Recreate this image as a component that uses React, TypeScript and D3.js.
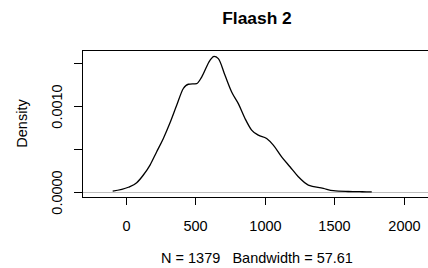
import * as d3 from "d3";

const densityX = [
  -96, 17, 77, 125, 173, 221, 269, 317, 365, 413, 449, 509, 545, 605, 634,
  665, 713, 761, 809, 857, 905, 953, 1013, 1061, 1121, 1181, 1241, 1313,
  1421, 1493, 1600, 1700, 1770,
];
const densityY = [
  0.00001, 0.000055, 0.000108, 0.000198, 0.000314, 0.000469, 0.000624,
  0.000806, 0.00101, 0.001206, 0.001256, 0.001264, 0.00134, 0.001535,
  0.001581, 0.001555, 0.00136, 0.001166, 0.00103, 0.000857, 0.000721,
  0.000663, 0.000624, 0.000547, 0.00041, 0.000294, 0.000178, 0.000081,
  0.000043, 0.000015, 0.000006, 0.000003, 0.000002,
];
const xTicks = [0, 500, 1000, 1500, 2000];
const yTicks = [0, 0.0005, 0.001, 0.0015];
const yTickLabels = ["0.0000", "", "0.0010", ""];

const title = "Flaash 2";
const subLabel = "N = 1379   Bandwidth = 57.61";
const yLabel = "Density";

export default function App() {
  const width = 428;
  const height = 268;
  const plot = { left: 82, top: 50, right: 432, bottom: 197 };
  const font = "'Liberation Sans', Arial, sans-serif";

  const x = d3.scaleLinear().domain([-317, 2204]).range([plot.left, plot.right]);
  const y = d3
    .scaleLinear()
    .domain([-0.0000583, 0.001655])
    .range([plot.bottom, plot.top]);

  const points = densityX.map((d, i) => [d, densityY[i]] as [number, number]);
  const line = d3
    .line<[number, number]>()
    .x((d) => x(d[0]))
    .y((d) => y(d[1]))
    .curve(d3.curveMonotoneX);

  const midX = (plot.left + plot.right) / 2;
  const midY = (plot.top + plot.bottom) / 2;

  return (
    <svg
      width={width}
      height={height}
      style={{ position: "absolute", left: 0, top: 0, background: "#fff" }}
      fontFamily={font}
    >
      <rect width={width} height={height} fill="#fff" />

      {/* zero line */}
      <line
        x1={plot.left}
        x2={plot.right}
        y1={Math.round(y(0)) + 0.5}
        y2={Math.round(y(0)) + 0.5}
        stroke="#bebebe"
        strokeWidth={1}
      />

      <path d={line(points) ?? ""} fill="none" stroke="#000" strokeWidth={1.3} />

      {/* box */}
      <rect
        x={plot.left + 0.5}
        y={plot.top + 0.5}
        width={plot.right - plot.left}
        height={plot.bottom - plot.top}
        fill="none"
        stroke="#000"
        strokeWidth={1}
      />

      {/* x axis */}
      {xTicks.map((t) => {
        const px = Math.round(x(t)) + 0.5;
        return (
          <g key={t}>
            <line x1={px} x2={px} y1={plot.bottom} y2={plot.bottom + 8} stroke="#000" />
            <text x={px} y={231} textAnchor="middle" fontSize={14.5}>
              {t}
            </text>
          </g>
        );
      })}

      {/* y axis */}
      {yTicks.map((t, i) => {
        const py = Math.round(y(t)) + 0.5;
        return (
          <g key={t}>
            <line x1={plot.left - 8} x2={plot.left} y1={py} y2={py} stroke="#000" />
            {yTickLabels[i] && (
              <text
                transform={`translate(62,${py}) rotate(-90)`}
                textAnchor="middle"
                fontSize={14.5}
              >
                {yTickLabels[i]}
              </text>
            )}
          </g>
        );
      })}

      <text
        transform={`translate(27,${midY}) rotate(-90)`}
        textAnchor="middle"
        fontSize={14.5}
      >
        {yLabel}
      </text>

      <text
        x={midX}
        y={262.5}
        textAnchor="middle"
        fontSize={14.5}
        style={{ whiteSpace: "pre" }}
      >
        {subLabel}
      </text>

      <text x={midX} y={24} textAnchor="middle" fontSize={17.4} fontWeight="bold">
        {title}
      </text>
    </svg>
  );
}
